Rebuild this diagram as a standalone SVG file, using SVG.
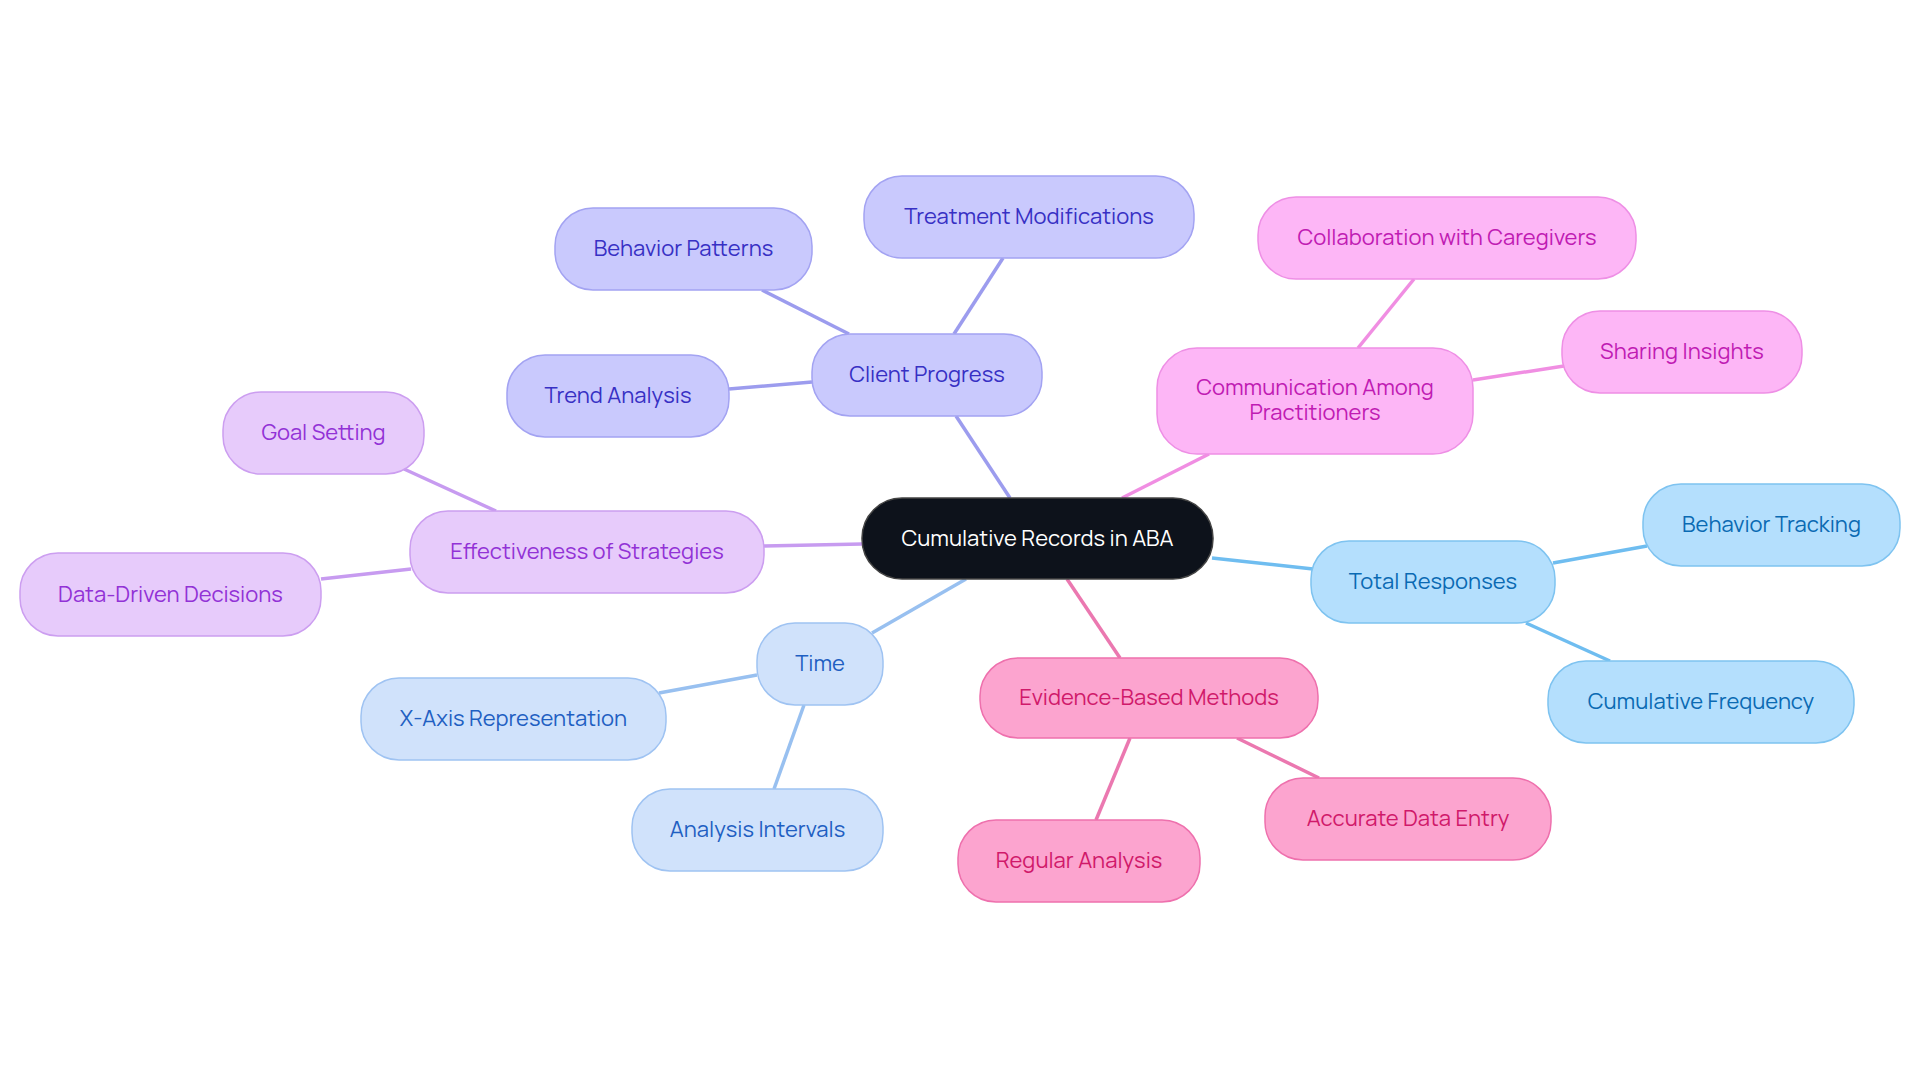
<svg xmlns="http://www.w3.org/2000/svg" width="1920" height="1083" viewBox="0 0 1920 1083">
<style>
text{font-family:Manrope,Inter,"Liberation Sans",sans-serif;font-size:22px;text-anchor:middle;dominant-baseline:central}
rect{stroke-width:1.5}
line{stroke-width:3.5;fill:none}
.c0 rect{fill:#0d121b;stroke:#444}.c0 text{fill:#fff}
.a rect{fill:#c9c9fd;stroke:#a3a3f2}.a text{fill:#3730c4}
.b rect{fill:#fdb6f6;stroke:#ee8fe5}.b text{fill:#c01bb3}
.p rect{fill:#e7cbfb;stroke:#cc9ef0}.p text{fill:#9232d6}
.t rect{fill:#b4dffd;stroke:#7ec3f0}.t text{fill:#0a6ab3}
.l rect{fill:#d0e2fb;stroke:#9fc3f2}.l text{fill:#1f5fc2}
.h rect{fill:#fca4cf;stroke:#ee70ad}.h text{fill:#d0196a}
.ea{stroke:#9c9cee}.eb{stroke:#f08ee2}.ep{stroke:#c79bf0}.et{stroke:#6fbdf0}.el{stroke:#98c0f0}.eh{stroke:#eb78b0}
</style>
<rect width="1920" height="1083" fill="#fff"/>
<g id="connectors">
<line class="ea" x1="1010" y1="498" x2="956" y2="416"/>
<line class="ea" x1="954" y1="334" x2="1003" y2="258"/>
<line class="ea" x1="849" y1="334" x2="762" y2="290"/>
<line class="ea" x1="812" y1="382" x2="729" y2="389"/>
<line class="eb" x1="1122" y1="498" x2="1209" y2="454"/>
<line class="eb" x1="1358" y1="348" x2="1414" y2="279"/>
<line class="eb" x1="1473" y1="380" x2="1564" y2="366"/>
<line class="ep" x1="862" y1="544" x2="764" y2="546"/>
<line class="ep" x1="496" y1="511" x2="404" y2="469"/>
<line class="ep" x1="411" y1="569" x2="321" y2="579"/>
<line class="et" x1="1212" y1="558" x2="1313" y2="569"/>
<line class="et" x1="1553" y1="563" x2="1647" y2="546"/>
<line class="et" x1="1526" y1="623" x2="1610" y2="661"/>
<line class="el" x1="966" y1="579" x2="872" y2="633"/>
<line class="el" x1="757" y1="675" x2="659" y2="693"/>
<line class="el" x1="804" y1="705" x2="774" y2="789"/>
<line class="eh" x1="1067" y1="579" x2="1120" y2="658"/>
<line class="eh" x1="1130" y1="738" x2="1096" y2="820"/>
<line class="eh" x1="1237" y1="738" x2="1319" y2="778"/>
</g>
<g id="central" class="c0"><rect x="862" y="498" width="351" height="81" rx="40"/><text x="1037.5" y="537.5">Cumulative Records in ABA</text></g>
<g id="client-progress" class="a"><rect x="812" y="334" width="230" height="82" rx="38"/><text x="927" y="374">Client Progress</text></g>
<g id="treatment" class="a"><rect x="864" y="176" width="330" height="82" rx="38"/><text x="1029" y="216">Treatment Modifications</text></g>
<g id="behavior-patterns" class="a"><rect x="555" y="208" width="257" height="82" rx="38"/><text x="683.5" y="248">Behavior Patterns</text></g>
<g id="trend" class="a"><rect x="507" y="355" width="222" height="82" rx="38"/><text x="618" y="395">Trend Analysis</text></g>
<g id="communication" class="b"><rect x="1157" y="348" width="316" height="106" rx="40"/><text x="1315" y="387">Communication Among</text><text x="1315" y="412">Practitioners</text></g>
<g id="collaboration" class="b"><rect x="1258" y="197" width="378" height="82" rx="38"/><text x="1447" y="237">Collaboration with Caregivers</text></g>
<g id="sharing" class="b"><rect x="1562" y="311" width="240" height="82" rx="38"/><text x="1682" y="351">Sharing Insights</text></g>
<g id="effectiveness" class="p"><rect x="410" y="511" width="354" height="82" rx="38"/><text x="587" y="551">Effectiveness of Strategies</text></g>
<g id="goal" class="p"><rect x="223" y="392" width="201" height="82" rx="38"/><text x="323.5" y="432">Goal Setting</text></g>
<g id="data-driven" class="p"><rect x="20" y="553" width="301" height="83" rx="38"/><text x="170.5" y="593.5">Data-Driven Decisions</text></g>
<g id="total" class="t"><rect x="1311" y="541" width="244" height="82" rx="38"/><text x="1433" y="581">Total Responses</text></g>
<g id="behavior-tracking" class="t"><rect x="1643" y="484" width="257" height="82" rx="38"/><text x="1771.5" y="524">Behavior Tracking</text></g>
<g id="cumulative-frequency" class="t"><rect x="1548" y="661" width="306" height="82" rx="38"/><text x="1701" y="701">Cumulative Frequency</text></g>
<g id="time" class="l"><rect x="757" y="623" width="126" height="82" rx="38"/><text x="820" y="663">Time</text></g>
<g id="x-axis" class="l"><rect x="361" y="678" width="305" height="82" rx="38"/><text x="513.5" y="718">X-Axis Representation</text></g>
<g id="intervals" class="l"><rect x="632" y="789" width="251" height="82" rx="38"/><text x="757.5" y="829">Analysis Intervals</text></g>
<g id="evidence" class="h"><rect x="980" y="658" width="338" height="80" rx="38"/><text x="1149" y="697">Evidence-Based Methods</text></g>
<g id="regular" class="h"><rect x="958" y="820" width="242" height="82" rx="38"/><text x="1079" y="860">Regular Analysis</text></g>
<g id="accurate" class="h"><rect x="1265" y="778" width="286" height="82" rx="38"/><text x="1408" y="818">Accurate Data Entry</text></g>
</svg>
